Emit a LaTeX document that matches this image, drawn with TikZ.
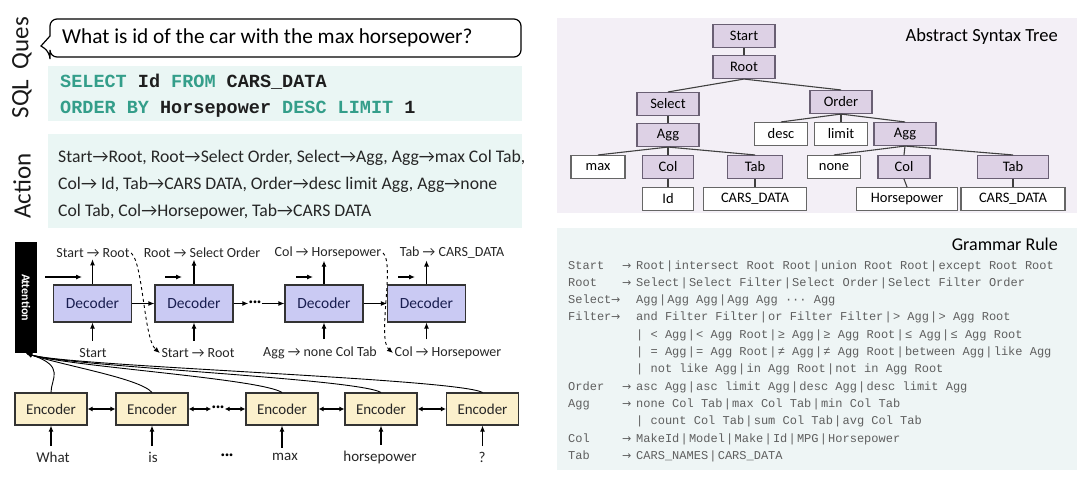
\documentclass[tikz,border=0pt]{standalone}
\usepackage{xcolor}
\usepackage{fontspec}
\setmainfont{Carlito}
\newfontfamily\codefont{Liberation Mono}
\newfontfamily\arrowfont{DejaVu Sans}
\usepackage{tikz}
\usetikzlibrary{arrows.meta}
\definecolor{KeyTeal}{RGB}{52,158,138}
\definecolor{CodeDark}{RGB}{30,30,30}
\definecolor{SqlBg}{RGB}{234,246,244}
\definecolor{PanelLilac}{RGB}{243,239,246}
\definecolor{NodeLilac}{RGB}{221,209,229}
\definecolor{NodeEdge}{RGB}{105,95,115}
\definecolor{DecFill}{RGB}{202,202,243}
\definecolor{DecText}{RGB}{25,30,80}
\definecolor{EncFill}{RGB}{251,240,204}
\definecolor{GramBg}{RGB}{238,245,245}
\definecolor{GramText}{RGB}{95,95,95}
\newcommand\gor{\hspace{0.1em}|\hspace{0.1em}}

\begin{document}
\begin{tikzpicture}[x=1pt, y=-1pt,
  arr/.style={-{Latex[length=6pt,width=5pt]}, line width=1.1pt},
  biarr/.style={{Latex[length=5pt,width=5pt]}-{Latex[length=5pt,width=5pt]}, line width=1.1pt},
  dec/.style={draw=black!80, line width=1.1pt, fill=DecFill, text=DecText,
    minimum width=78, minimum height=37, inner sep=0, font=\fontsize{15.5}{18}\selectfont},
  enc/.style={draw=black!80, line width=1.1pt, fill=EncFill, text=black!85,
    minimum width=72, minimum height=32, inner sep=0, font=\fontsize{15}{18}\selectfont},
  lbl/.style={text=black!85, inner sep=1.5, font=\fontsize{14}{16}\selectfont},
  word/.style={text=black!85, inner sep=1.5, font=\fontsize{15}{18}\selectfont},
  dots/.style={inner sep=0.5, font=\bfseries\fontsize{15}{18}\selectfont},
  side/.style={rotate=90, text=black!90, font=\fontsize{25}{28}\selectfont},
  ast/.style={draw=NodeEdge, line width=1.1pt, fill=NodeLilac, minimum height=23,
    inner sep=0, font=\fontsize{14.5}{16}\selectfont},
  leaf/.style={ast, draw=black!60, fill=white},
  tedge/.style={line width=1.1pt, draw=black!75},
  gram/.style={text=GramText, inner sep=0, anchor=base west,
    font=\codefont\fontsize{12}{14}\selectfont}]
\useasboundingbox (0,0) rectangle (1080,482);

% left: question, sql, actions
\node[side] (quesLbl) at (22,43) {Ques};
\node[side] (sqlLbl) at (22,99) {SQL};
\node[side] (actLbl) at (22,186) {Action};
\draw[line width=1.2pt] (50,36) [rounded corners=7] -- (50,19) -- (521,19) -- (521,57)
  -- (50,57) -- (50,52) [sharp corners] -- (41,46) -- cycle;
\node[anchor=west, inner sep=0, font=\fontsize{21.3}{24}\selectfont] (quesTxt) at (62,38)
  {What is id of the car with the max horsepower?};
\fill[SqlBg] (48,66) rectangle (522,121);
\node[anchor=west, inner sep=0, text=CodeDark, font=\codefont\bfseries\fontsize{18.5}{22}\selectfont]
  (sql1) at (60,82) {\textcolor{KeyTeal}{SELECT} Id \textcolor{KeyTeal}{FROM} CARS\_DATA};
\node[anchor=west, inner sep=0, text=CodeDark, font=\codefont\bfseries\fontsize{18.5}{22}\selectfont]
  (sql2) at (60,109) {\textcolor{KeyTeal}{ORDER BY} Horsepower \textcolor{KeyTeal}{DESC LIMIT} 1};
\fill[SqlBg] (48,134) rectangle (522,228);
\node[anchor=west, inner sep=0, text=black!85, font=\fontsize{17.7}{20}\selectfont] (act1) at (58,158)
  {Start→Root, Root→Select Order, Select→Agg, Agg→max Col Tab,};
\node[anchor=west, inner sep=0, text=black!85, font=\fontsize{17.7}{20}\selectfont] (act2) at (58,185)
  {Col→ Id, Tab→CARS DATA, Order→desc limit Agg, Agg→none};
\node[anchor=west, inner sep=0, text=black!85, font=\fontsize{17.7}{20}\selectfont] (act3) at (58,212)
  {Col Tab, Col→Horsepower, Tab→CARS DATA};

% decoder
\node[fill=black, rotate=-90, minimum width=111, minimum height=22, inner sep=0,
  text=white, font=\bfseries\fontsize{12}{14}\selectfont] (att) at (26,297.5) {Attention};
\node[dec] (d1) at (92.5,303.5) {Decoder};
\node[dec] (d2) at (194,303.5) {Decoder};
\node[dec] (d3) at (324,303.5) {Decoder};
\node[dec] (d4) at (426.5,303.5) {Decoder};
\node[dots] (dDots) at (255,303.5) {···};
\draw[arr] (d1) -- (d2);
\draw[arr] (d2) -- (dDots);
\draw[arr] (dDots) -- (d3);
\draw[arr] (d3) -- (d4);

\node[lbl] (t1) at (93,253) {Start → Root};
\node[lbl] (t2) at (202,253) {Root → Select Order};
\node[lbl] (t3) at (328,253) {Col → Horsepower};
\node[lbl] (t4) at (452,253) {Tab → CARS\_DATA};
\node[lbl] (b1) at (93,353) {Start};
\node[lbl] (b2) at (198,353) {Start → Root};
\node[lbl] (b3) at (320,353) {Agg → none Col Tab};
\node[lbl] (b4) at (448,353) {Col → Horsepower};
\foreach \i in {1,...,4} {
  \draw[arr] (d\i.north) -- (d\i.north |- t\i.south);
  \draw[arr, shorten <=6pt] (d\i.south |- b\i.north) -- (d\i.south);
}
\coordinate (in1) at (45,277);
\coordinate (in2) at (165,277);
\coordinate (in3) at (296,277);
\coordinate (in4) at (398,277);
\draw[arr] (in1) -- ++(37,0);
\foreach \i in {2,3,4}
  \draw[arr] (in\i) -- ++(17,0);
\draw[arr, dashed, line width=0.9pt] (t1.east) .. controls +(12,10) and +(-16,-14) .. (b2.west);
\draw[arr, dashed, line width=0.9pt] (t3.east) .. controls +(12,10) and +(-16,-14) .. (b4.west);

% encoder
\node[enc] (e1) at (51,409) {Encoder};
\node[enc] (e2) at (152,409) {Encoder};
\node[enc] (e3) at (282,409) {Encoder};
\node[enc] (e4) at (381,409) {Encoder};
\node[enc] (e5) at (482.5,409) {Encoder};
\node[dots] (eDots) at (218,409) {···};
\draw[biarr] (e1) -- (e2);
\draw[biarr] (e2) -- (eDots);
\draw[biarr] (eDots) -- (e3);
\draw[biarr] (e3) -- (e4);
\draw[biarr] (e4) -- (e5);
\node[word] (w1) at (53,457) {What};
\node[word] (w2) at (153,457) {is};
\node[dots] (w3) at (227,457) {···};
\node[word] (w4) at (285,457) {max};
\node[word] (w5) at (380,457) {horsepower};
\node[word] (w6) at (482,457) {?};
\foreach \e/\w in {e1/w1, e2/w2, e3/w4, e4/w5, e5/w6}
  \draw[arr, shorten <=4pt] (\e.south |- \w.north) -- (\e.south);
% att.east is the bottom of the rotated bar
\foreach \i/\c in {1/0, 2/-12, 3/-22, 4/-24, 5/-26}
  \draw[arr, line width=0.9pt] (e\i.north) .. controls +(\c,-14) and +(40,13) .. (att.east);

% abstract syntax tree
\fill[PanelLilac] (557,18) rectangle (1077,213);
\node[anchor=east, inner sep=0, font=\fontsize{18.5}{20}\selectfont] (astTitle) at (1058,37)
  {Abstract Syntax Tree};
\node[ast, minimum width=62] (aStart) at (744,36) {Start};
\node[ast, minimum width=62] (aRoot) at (744,67) {Root};
\node[ast, minimum width=62] (aSel) at (668,104) {Select};
\node[ast, minimum width=62] (aOrd) at (841,102) {Order};
\node[ast, minimum width=62] (aAggL) at (668,135) {Agg};
\node[leaf, minimum width=53] (aDesc) at (781,134) {desc};
\node[leaf, minimum width=53] (aLim) at (841,134) {limit};
\node[ast, minimum width=62] (aAggR) at (905,134) {Agg};
\node[leaf, minimum width=54] (aMax) at (598,167) {max};
\node[ast, minimum width=51] (aColL) at (668,167) {Col};
\node[ast, minimum width=55] (aTabL) at (755,167) {Tab};
\node[leaf, minimum width=53] (aNone) at (834,167) {none};
\node[ast, minimum width=52] (aColR) at (904,167) {Col};
\node[ast, minimum width=71] (aTabR) at (1013,167) {Tab};
\node[leaf, minimum width=51] (aId) at (668,199) {Id};
\node[leaf, minimum width=103] (aDataL) at (755,199) {CARS\_DATA};
\node[leaf, minimum width=101] (aHp) at (907,199) {Horsepower};
\node[leaf, minimum width=104] (aDataR) at (1013,199) {CARS\_DATA};
\foreach \p/\c in {aStart/aRoot, aRoot/aSel, aRoot/aOrd, aSel/aAggL, aAggL/aMax,
    aAggL/aColL, aAggL/aTabL, aOrd/aDesc, aOrd/aLim, aOrd/aAggR, aAggR/aNone,
    aAggR/aColR, aAggR/aTabR, aColL/aId, aTabL/aDataL, aColR/aHp, aTabR/aDataR}
  \draw[tedge] (\p.south) -- (\c.north);

% grammar rules
\fill[GramBg] (557,228) rectangle (1077,470);
\node[anchor=east, inner sep=0, font=\fontsize{18}{20}\selectfont] (gramTitle) at (1058,244)
  {Grammar Rule};
\foreach \lhs/\ax/\rhs [count=\i from 0] in {
    Start/622/{Root\gor intersect Root Root\gor union Root Root\gor except Root Root},
    Root/622/{Select\gor Select Filter\gor Select Order\gor Select Filter Order},
    Select/611/{Agg\gor Agg Agg\gor Agg Agg ··· Agg},
    Filter/611/{and Filter Filter\gor or Filter Filter\gor > Agg\gor > Agg Root},
    {}/0/{| < Agg\gor < Agg Root\gor ≥ Agg\gor ≥ Agg Root\gor ≤ Agg\gor ≤ Agg Root},
    {}/0/{| = Agg\gor = Agg Root\gor ≠ Agg\gor ≠ Agg Root\gor between Agg\gor like Agg},
    {}/0/{| not like Agg\gor in Agg Root\gor not in Agg Root},
    Order/622/{asc Agg\gor asc limit Agg\gor desc Agg\gor desc limit Agg},
    Agg/622/{none Col Tab\gor max Col Tab\gor min Col Tab},
    {}/0/{| count Col Tab\gor sum Col Tab\gor avg Col Tab},
    Col/622/{MakeId\gor Model\gor Make\gor Id\gor MPG\gor Horsepower},
    Tab/622/{CARS\_NAMES\gor CARS\_DATA}} {
  \node[gram] (gL\i) at (568,269+17.3*\i) {\lhs};
  \node[gram] (gR\i) at (636,269+17.3*\i) {\rhs};
  \ifnum\ax>0 \node[gram, font=\arrowfont\fontsize{11}{14}\selectfont] (gA\i) at (\ax,269+17.3*\i) {→}; \fi
}
\end{tikzpicture}
\end{document}
